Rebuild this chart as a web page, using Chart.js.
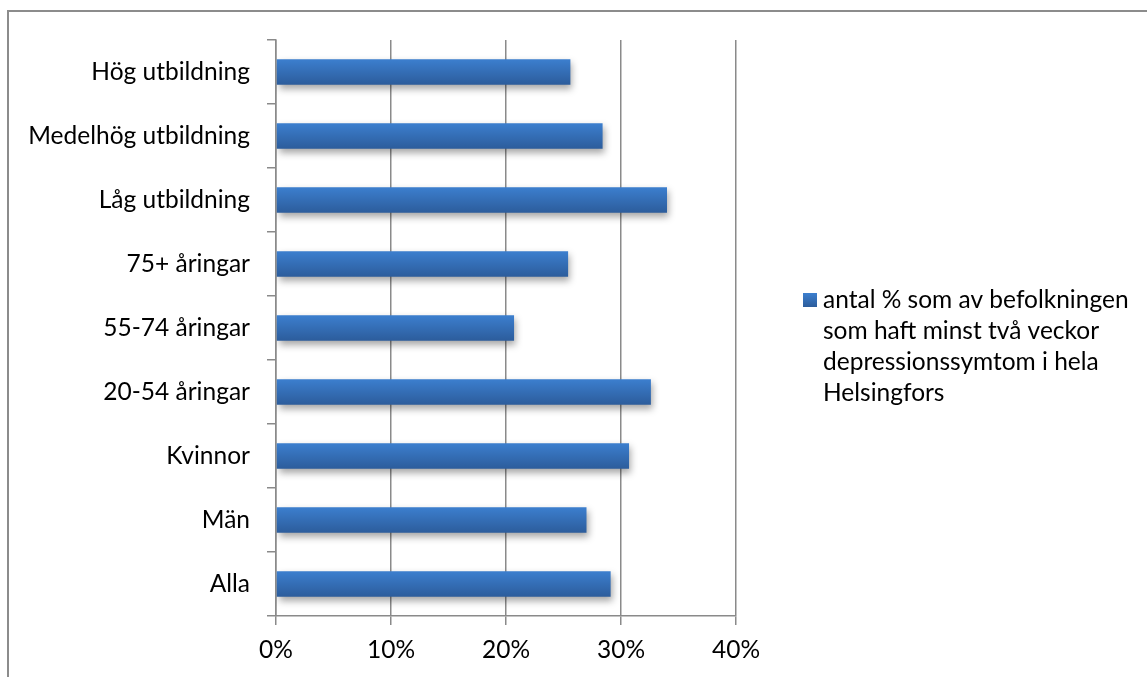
<!DOCTYPE html>
<html>
<head>
<meta charset="utf-8">
<script src="https://cdn.jsdelivr.net/npm/chart.js@4.4.0/dist/chart.umd.min.js"></script>
<style>
    html, body { margin: 0; padding: 0; background: #fff; overflow: hidden; }
    #wrap { position: relative; width: 1147px; height: 677px; }
    #frame {
        position: absolute; left: 7px; top: 10px; width: 1200px; height: 700px;
        border-left: 2px solid #8c8c8c; border-top: 2px solid #8c8c8c;
    }
    canvas { position: absolute; left: 0; top: 0; }
</style>
</head>
<body>
<div id="wrap">
    <div id="frame"></div>
    <canvas id="depChart" width="1147" height="677"></canvas>
</div>
<script>
    const categories = ['Hög utbildning', 'Medelhög utbildning', 'Låg utbildning', '75+ åringar',
        '55-74 åringar', '20-54 åringar', 'Kvinnor', 'Män', 'Alla'];
    const shares = [25.6, 28.4, 34.0, 25.4, 20.7, 32.6, 30.7, 27.0, 29.1];
    const xTicks = [0, 10, 20, 30, 40];
    const seriesLabel = 'antal % som av befolkningen som haft minst två veckor depressionssymtom i hela Helsingfors';

    const FONT = 'Lato, "Open Sans", sans-serif';
    const FONT_SIZE = 24.5;
    const gridColor = '#8a8a8a';

    // blå gradient per stapel, ljusare upptill
    function barGradient(context) {
        const chart = context.chart;
        const yScale = chart.scales.y;
        if (!chart.chartArea || !yScale) return '#3a7bca';
        const yc = yScale.getPixelForValue(context.dataIndex);
        const g = chart.ctx.createLinearGradient(0, yc - 13, 0, yc + 13);
        g.addColorStop(0, '#3c7fcf');
        g.addColorStop(1, '#2c5c9b');
        return g;
    }

    // skugga under staplarna
    const barShadow = {
        id: 'barShadow',
        beforeDatasetDraw(chart) {
            const ctx = chart.ctx;
            ctx.save();
            ctx.shadowColor = 'rgba(0, 0, 0, 0.35)';
            ctx.shadowBlur = 7;
            ctx.shadowOffsetX = 2;
            ctx.shadowOffsetY = 4;
        },
        afterDatasetDraw(chart) {
            chart.ctx.restore();
        }
    };

    // förklaring till höger, radbruten
    const sideLegend = {
        id: 'sideLegend',
        afterDraw(chart) {
            const ctx = chart.ctx;
            const ds = chart.data.datasets[0];
            const left = 823, top = 300, lineH = 31, maxW = 325;
            ctx.save();
            ctx.font = FONT_SIZE + 'px ' + FONT;
            const words = ds.label.split(' ');
            const lines = [];
            let cur = '';
            words.forEach(w => {
                const t = cur ? cur + ' ' + w : w;
                if (ctx.measureText(t).width > maxW && cur) { lines.push(cur); cur = w; }
                else cur = t;
            });
            if (cur) lines.push(cur);

            const g = ctx.createLinearGradient(0, top - 7, 0, top + 7);
            g.addColorStop(0, '#3c7fcf');
            g.addColorStop(1, '#2c5c9b');
            ctx.fillStyle = g;
            ctx.fillRect(803, top - 7, 14, 14);

            ctx.fillStyle = '#000';
            ctx.textBaseline = 'middle';
            ctx.textAlign = 'left';
            lines.forEach((l, i) => ctx.fillText(l, left, top + i * lineH));
            ctx.restore();
        }
    };

    const ctx = document.getElementById('depChart').getContext('2d');
    const chart = new Chart(ctx, {
        type: 'bar',
        data: {
            labels: categories,
            datasets: [{
                label: seriesLabel,
                data: shares,
                backgroundColor: barGradient,
                borderWidth: 0,
                barPercentage: 0.5,
                categoryPercentage: 0.8
            }]
        },
        options: {
            indexAxis: 'y',
            responsive: false,
            animation: false,
            layout: { padding: { left: 0, top: 40, right: 411, bottom: 0 } },
            plugins: {
                legend: { display: false },
                tooltip: { enabled: false }
            },
            scales: {
                x: {
                    min: 0,
                    max: 40,
                    afterBuildTicks: axis => { axis.ticks = xTicks.map(v => ({ value: v })); },
                    afterFit: axis => { axis.height = 61; },
                    border: { color: gridColor, width: 1.5 },
                    grid: { color: gridColor, lineWidth: 1.5, tickLength: 9, tickColor: gridColor },
                    ticks: {
                        color: '#000',
                        padding: 10,
                        font: { family: FONT, size: FONT_SIZE },
                        callback: v => v + '%'
                    }
                },
                y: {
                    afterFit: axis => { axis.width = 276; },
                    border: { color: gridColor, width: 1.5 },
                    grid: {
                        drawOnChartArea: false,
                        offset: true,
                        color: gridColor,
                        lineWidth: 1.5,
                        tickLength: 9
                    },
                    ticks: {
                        color: '#000',
                        padding: 17,
                        font: { family: FONT, size: FONT_SIZE }
                    }
                }
            }
        },
        plugins: [barShadow, sideLegend]
    });
</script>
</body>
</html>
